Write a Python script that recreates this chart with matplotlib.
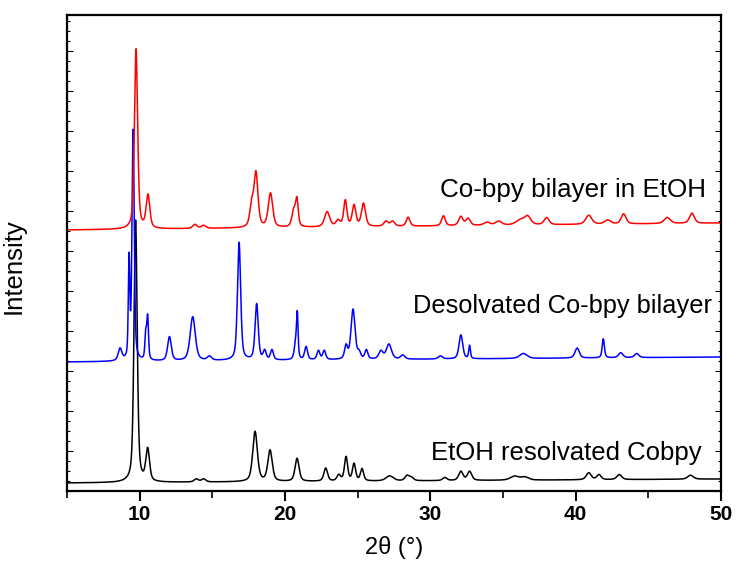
import numpy as np
import matplotlib.pyplot as plt
from matplotlib.ticker import MultipleLocator, NullFormatter

# peak lists: position (2theta), height, FWHM
black_pos = [9.72, 10.55, 13.9, 14.4, 17.94, 18.97, 20.83, 22.8, 23.7, 24.2, 24.75, 25.3,
             27.2, 28.4, 28.7, 31.0, 32.1, 32.7, 35.8, 36.5, 40.9, 41.6, 43.0, 47.9]
black_h = [262, 32, 3, 3, 50, 31, 23, 13, 6, 24, 17, 12,
           5, 5, 3, 3, 9, 9, 4, 3, 7, 5, 5, 4]
black_w = [0.26, 0.3, 0.35, 0.35, 0.38, 0.36, 0.33, 0.3, 0.3, 0.26, 0.26, 0.26,
           0.6, 0.35, 0.35, 0.35, 0.35, 0.35, 0.7, 0.6, 0.4, 0.35, 0.4, 0.45]
black_base = [483, 479]

blue_pos = [8.65, 9.27, 9.55, 10.42, 10.55, 12.05, 13.65, 14.8, 16.84, 18.05, 18.6, 19.1,
            20.75, 20.85, 21.45, 22.3, 22.7, 24.2, 24.68, 25.1, 25.6, 26.6, 27.15, 28.1,
            30.7, 32.1, 32.7, 36.4, 40.1, 41.9, 43.1, 44.2]
blue_h = [12, 98, 230, 25, 42, 24, 44, 4, 118, 56, 9, 10,
          18, 38, 13, 9, 9, 13, 50, 6, 9, 8, 15, 4,
          3, 24, 13, 5, 10, 19, 5, 4]
blue_w = [0.3, 0.12, 0.18, 0.14, 0.14, 0.3, 0.42, 0.35, 0.26, 0.26, 0.24, 0.24,
          0.24, 0.12, 0.24, 0.24, 0.24, 0.24, 0.33, 0.24, 0.24, 0.35, 0.42, 0.35,
          0.35, 0.3, 0.14, 0.6, 0.35, 0.18, 0.35, 0.35]
blue_base = [362, 357]

red_pos = [9.75, 10.57, 13.8, 14.4, 17.7, 18.0, 19.0, 20.6, 20.82, 22.9, 23.65, 24.15,
           24.75, 25.4, 26.95, 27.4, 28.47, 30.9, 32.1, 32.6, 33.9, 34.7, 36.2, 36.7,
           38.0, 40.9, 42.2, 43.3, 46.3, 48.0]
red_h = [180, 33, 4, 3, 20, 54, 34, 16, 26, 15, 6, 26,
         21, 23, 5, 5, 9, 10, 9, 7, 3, 4, 5, 8,
         7, 9, 4, 10, 6, 10]
red_w = [0.26, 0.3, 0.35, 0.35, 0.3, 0.33, 0.36, 0.3, 0.22, 0.42, 0.35, 0.26,
         0.3, 0.33, 0.35, 0.35, 0.3, 0.3, 0.35, 0.35, 0.5, 0.5, 0.7, 0.5,
         0.4, 0.5, 0.5, 0.4, 0.5, 0.4]
red_base = [230, 223]

labels = ["EtOH resolvated Cobpy", "Desolvated Co-bpy bilayer", "Co-bpy bilayer in EtOH"]

X0, X1 = 5, 50
BOTTOM_PX = 491


def profile(x, pos, h, w, base):
    # pseudo-Voigt peaks on a straight baseline; intensity in picture units
    y = np.interp(x, [X0, X1], [BOTTOM_PX - base[0], BOTTOM_PX - base[1]])
    for p, a, fw in zip(pos, h, w):
        d = (x - p) / (fw / 2)
        y = y + a * (0.5 / (1 + d**2) + 0.5 * np.exp(-np.log(2) * d**2))
    return y


x = np.linspace(X0, X1, 6000)

fig = plt.figure(figsize=(7.36, 5.69), dpi=100)
ax = fig.add_axes([67 / 736, 78 / 569, 654 / 736, 476 / 569])

ax.plot(x, profile(x, black_pos, black_h, black_w, black_base), color="black", lw=1.1)
ax.plot(x, profile(x, blue_pos, blue_h, blue_w, blue_base), color="blue", lw=1.1)
ax.plot(x, profile(x, red_pos, red_h, red_w, red_base), color="red", lw=1.1)

font = "Liberation Sans"
ax.text(49.0, BOTTOM_PX - 190, labels[2], ha="right", va="center", fontsize=18.7, family=font)
ax.text(49.4, BOTTOM_PX - 306, labels[1], ha="right", va="center", fontsize=18.3, family=font)
ax.text(48.7, BOTTOM_PX - 453, labels[0], ha="right", va="center", fontsize=18.5, family=font)

ax.set_xlim(X0, X1)
ax.set_ylim(0, 476)
ax.xaxis.set_major_locator(MultipleLocator(10))
ax.xaxis.set_minor_locator(MultipleLocator(5))
ax.yaxis.set_major_locator(MultipleLocator(40))
ax.yaxis.set_minor_locator(MultipleLocator(10))
ax.yaxis.set_major_formatter(NullFormatter())
ax.tick_params(axis="x", which="major", direction="out", length=7, width=1.5, pad=3)
ax.tick_params(axis="x", which="minor", direction="out", length=5, width=1.2)
ax.tick_params(axis="y", which="both", direction="in", left=True, right=True, width=0.8)
ax.tick_params(axis="y", which="major", length=4)
ax.tick_params(axis="y", which="minor", length=2)
for lab in ax.get_xticklabels():
    lab.set_family(font)
    lab.set_fontweight("bold")
    lab.set_fontsize(15)
for s in ax.spines.values():
    s.set_linewidth(1.6)

ax.set_xlabel("2θ (°)", fontsize=17, family=font, labelpad=9)
ax.set_ylabel("Intensity", fontsize=18.5, family=font)
ax.yaxis.set_label_coords(-0.063, 0.473)

plt.savefig("out.png", dpi=100)
